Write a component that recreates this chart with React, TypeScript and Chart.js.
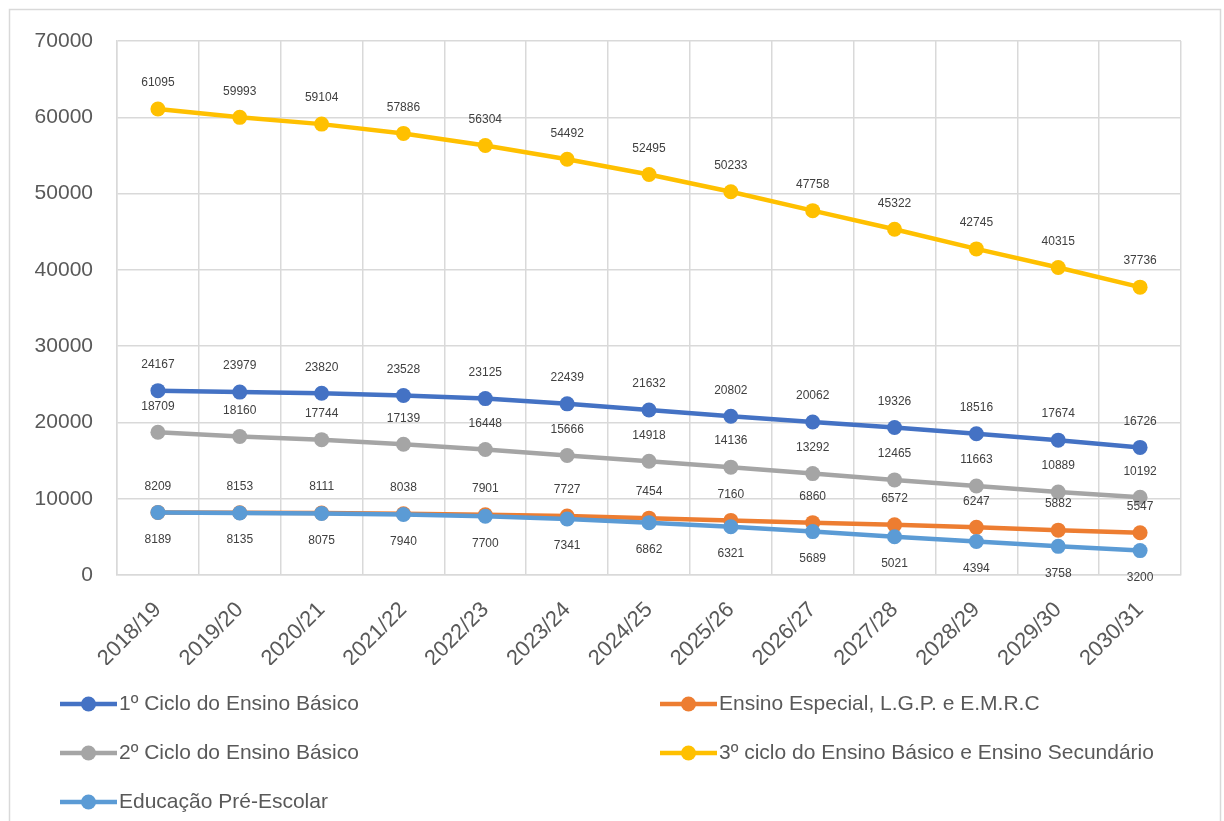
import React, { useEffect, useRef } from "react";
import { Chart, registerables } from "chart.js";
Chart.register(...registerables);

const categories = [
  "2018/19", "2019/20", "2020/21", "2021/22", "2022/23", "2023/24", "2024/25",
  "2025/26", "2026/27", "2027/28", "2028/29", "2029/30", "2030/31",
];
const seriesNames = [
  "1º Ciclo do Ensino Básico",
  "Ensino Especial, L.G.P. e E.M.R.C",
  "2º Ciclo do Ensino Básico",
  "3º ciclo do Ensino Básico e Ensino Secundário",
  "Educação Pré-Escolar",
];
const ciclo1 = [24167, 23979, 23820, 23528, 23125, 22439, 21632, 20802, 20062, 19326, 18516, 17674, 16726];
const especial = [8209, 8153, 8111, 8038, 7901, 7727, 7454, 7160, 6860, 6572, 6247, 5882, 5547];
const ciclo2 = [18709, 18160, 17744, 17139, 16448, 15666, 14918, 14136, 13292, 12465, 11663, 10889, 10192];
const ciclo3 = [61095, 59993, 59104, 57886, 56304, 54492, 52495, 50233, 47758, 45322, 42745, 40315, 37736];
const preEscolar = [8189, 8135, 8075, 7940, 7700, 7341, 6862, 6321, 5689, 5021, 4394, 3758, 3200];
const yTicks = [0, 10000, 20000, 30000, 40000, 50000, 60000, 70000];

const seriesValues = [ciclo1, especial, ciclo2, ciclo3, preEscolar];
const colors = ["#4472C4", "#ED7D31", "#A5A5A5", "#FFC000", "#5B9BD5"];
const labelBelow = [false, false, false, false, true];

const FONT = "'Liberation Sans', Arial, sans-serif";

export default function App() {
  const ref = useRef<HTMLCanvasElement>(null);
  useEffect(() => {
    document.body.style.margin = "0";
    document.body.style.overflow = "hidden";

    const framePlugin = {
      id: "frame",
      beforeDraw(chart: any) {
        const ctx = chart.ctx;
        ctx.save();
        ctx.fillStyle = "#ffffff";
        ctx.fillRect(0, 0, chart.width, chart.height);
        ctx.strokeStyle = "#D9D9D9";
        ctx.lineWidth = 1.5;
        ctx.strokeRect(9.5, 9.5, 1211, 900);
        ctx.restore();
      },
    };

    const labelPlugin = {
      id: "valueLabels",
      afterDatasetsDraw(chart: any) {
        const ctx = chart.ctx;
        ctx.save();
        ctx.font = `12px ${FONT}`;
        ctx.fillStyle = "#404040";
        ctx.textAlign = "center";
        ctx.textBaseline = "middle";
        chart.data.datasets.forEach((ds: any, i: number) => {
          const meta = chart.getDatasetMeta(i);
          meta.data.forEach((pt: any, j: number) => {
            const dy = labelBelow[i] ? 27 : -26;
            ctx.fillText(String(ds.data[j]), pt.x, pt.y + dy);
          });
        });
        ctx.restore();
      },
    };

    const legendPlugin = {
      id: "customLegend",
      afterDraw(chart: any) {
        const ctx = chart.ctx;
        ctx.save();
        const colX = [60, 660];
        const rowY = [704, 753, 802];
        chart.data.datasets.forEach((ds: any, i: number) => {
          const x0 = colX[i % 2];
          const y = rowY[Math.floor(i / 2)];
          ctx.strokeStyle = ds.borderColor;
          ctx.lineWidth = 4.5;
          ctx.beginPath();
          ctx.moveTo(x0, y);
          ctx.lineTo(x0 + 57, y);
          ctx.stroke();
          ctx.fillStyle = ds.borderColor;
          ctx.beginPath();
          ctx.arc(x0 + 28.5, y, 7.5, 0, Math.PI * 2);
          ctx.fill();
          ctx.fillStyle = "#595959";
          ctx.font = `21px ${FONT}`;
          ctx.textAlign = "left";
          ctx.textBaseline = "middle";
          ctx.fillText(ds.label, x0 + 59, y);
        });
        ctx.restore();
      },
    };

    const chart = new Chart(ref.current!, {
      type: "line",
      data: {
        labels: categories,
        datasets: seriesValues.map((vals, i) => ({
          label: seriesNames[i],
          data: vals,
          borderColor: colors[i],
          backgroundColor: colors[i],
          borderWidth: 4.5,
          pointRadius: 7.5,
          pointHoverRadius: 7.5,
          pointBorderWidth: 0,
          pointBackgroundColor: colors[i],
          tension: 0,
          fill: false,
          order: seriesValues.length - 1 - i,
        })),
      },
      options: {
        responsive: false,
        animation: false,
        layout: { padding: { left: 0, right: 43, top: 41, bottom: 156 } },
        plugins: {
          legend: { display: false },
          tooltip: { enabled: false },
        },
        scales: {
          x: {
            type: "category",
            offset: true,
            grid: { offset: true, color: "#D9D9D9", lineWidth: 1.5, drawTicks: false },
            border: { color: "#D9D9D9", width: 1.5 },
            ticks: {
              color: "#595959",
              font: { size: 22, family: FONT },
              minRotation: 45,
              maxRotation: 45,
              autoSkip: false,
              padding: 22,
            },
            afterFit(scale: any) {
              scale.height = 90;
            },
          },
          y: {
            min: 0,
            max: 70000,
            afterBuildTicks(scale: any) {
              scale.ticks = yTicks.map((v) => ({ value: v }));
            },
            grid: { color: "#D9D9D9", lineWidth: 1.5, drawTicks: false },
            border: { color: "#D9D9D9", width: 1.5 },
            ticks: {
              color: "#595959",
              font: { size: 21, family: FONT },
              padding: 24,
              callback: (v: any) => String(v),
            },
            afterFit(scale: any) {
              scale.width = 117;
            },
          },
        },
      },
      plugins: [framePlugin, labelPlugin, legendPlugin],
    });
    return () => chart.destroy();
  }, []);
  return (
    <div style={{ width: 1224, height: 821, overflow: "hidden" }}>
      <canvas ref={ref} width={1224} height={821} style={{ display: "block", width: 1224, height: 821 }} />
    </div>
  );
}
